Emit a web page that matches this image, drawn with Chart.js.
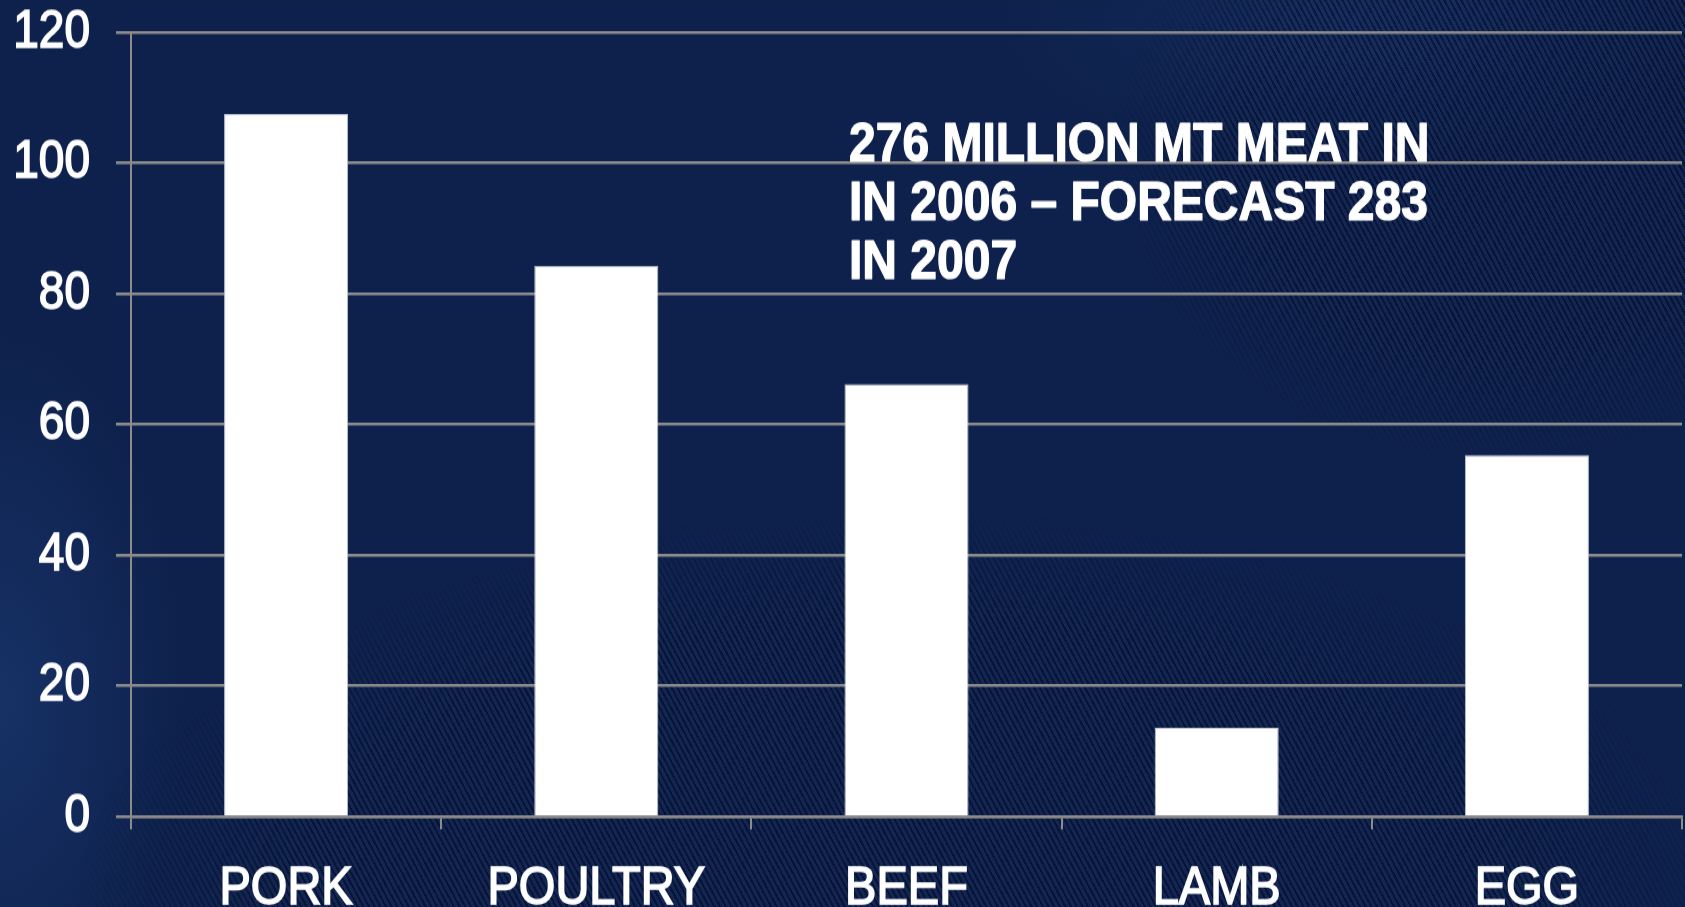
<!DOCTYPE html>
<html>
<head>
<meta charset="utf-8">
<script src="https://cdn.jsdelivr.net/npm/chart.js@4.4.1/dist/chart.umd.min.js"></script>
<style>
  html, body { margin: 0; padding: 0; width: 1685px; height: 907px; overflow: hidden; background: #0e214c; }
  #bg {
    position: absolute; left: 0; top: 0; width: 1685px; height: 907px;
    background:
      radial-gradient(ellipse 260px 520px at 0px 700px, rgba(40,80,150,0.35), rgba(40,80,150,0) 70%),
      radial-gradient(ellipse 500px 200px at 1350px 20px, rgba(30,60,120,0.35), rgba(30,60,120,0) 70%),
      #0e214c;
  }
  #stripes {
    position: absolute; left: 0; top: 0; width: 1685px; height: 907px;
    background: repeating-linear-gradient(62deg, rgba(0,5,25,0.55) 0px, rgba(0,5,25,0.55) 2px, rgba(40,60,110,0.25) 2px, rgba(40,60,110,0.25) 5px);
    -webkit-mask-image: radial-gradient(ellipse 1100px 520px at 900px 900px, #000 55%, transparent 75%), radial-gradient(ellipse 520px 420px at 1500px 150px, #000 50%, transparent 75%);
    mask-image: radial-gradient(ellipse 1100px 520px at 900px 900px, #000 55%, transparent 75%), radial-gradient(ellipse 520px 420px at 1500px 150px, #000 50%, transparent 75%);
    opacity: 0.8;
  }
  #wrap {
    position: absolute; left: 0; top: 0; width: 1685px; height: 788.7px;
    transform: scaleY(1.15); transform-origin: 0 0;
  }
</style>
</head>
<body>
<div id="bg"></div>
<div id="stripes"></div>
<div id="wrap"><canvas id="chart"></canvas></div>
<script>
// World output by product (million tonnes)
const categories = ['PORK', 'POULTRY', 'BEEF', 'LAMB', 'EGG'];
const production = [107.5, 84.3, 66.2, 13.6, 55.3];
const yTicks = [0, 20, 40, 60, 80, 100, 120];
const noteLines = ['276 MILLION MT MEAT IN', 'IN 2006 \u2013 FORECAST 283', 'IN 2007'];

const GRID = '#8c8c8c';
const FONT = "'Liberation Sans', Arial, Helvetica, sans-serif";

// Headline note written over the upper right of the plot
const notePlugin = {
  id: 'note',
  afterDraw(chart) {
    const { ctx, chartArea, scales } = chart;
    const y0 = scales.y.getPixelForValue(100) - 2;
    ctx.save();
    ctx.fillStyle = '#ffffff';
    ctx.strokeStyle = '#ffffff';
    ctx.lineWidth = 1.2;
    ctx.lineJoin = 'round';
    ctx.font = 'bold 48px ' + FONT;
    ctx.textAlign = 'left';
    ctx.textBaseline = 'alphabetic';
    noteLines.forEach((line, i) => {
      const x = chartArea.left + 718, y = y0 + i * 51;
      ctx.strokeText(line, x, y);
      ctx.fillText(line, x, y);
    });
    ctx.restore();
  }
};

new Chart(document.getElementById('chart'), {
  type: 'bar',
  data: {
    labels: categories,
    datasets: [{
      data: production,
      backgroundColor: '#ffffff',
      borderColor: 'rgba(190,196,210,1)',
      borderWidth: 1,
      categoryPercentage: 1.0,
      barPercentage: 0.4
    }]
  },
  options: {
    responsive: true,
    maintainAspectRatio: false,
    animation: false,
    layout: { padding: { top: 28, right: 3, left: 0, bottom: 0 } },
    plugins: { legend: { display: false }, tooltip: { enabled: false } },
    scales: {
      x: {
        offset: true,
        grid: { display: true, drawOnChartArea: false, drawTicks: true, tickLength: 11, color: GRID, lineWidth: 2, offset: true },
        border: { display: true, color: GRID, width: 2.6 },
        ticks: { color: '#ffffff', font: { family: FONT, size: 47 }, padding: 23.5, maxRotation: 0, textStrokeColor: '#ffffff', textStrokeWidth: 1.5 },
        afterFit(s) { s.height = 79.5; s.paddingLeft = 0; s.paddingRight = 0; }
      },
      y: {
        min: 0, max: 120,
        afterBuildTicks(s) { s.ticks = yTicks.map(v => ({ value: v })); },
        grid: { color: GRID, lineWidth: 2.6, tickLength: 15, drawTicks: true },
        border: { display: true, color: GRID, width: 2 },
        ticks: { color: '#ffffff', font: { family: FONT, size: 46 }, padding: 26, textStrokeColor: '#ffffff', textStrokeWidth: 1.5 },
        afterFit(s) { s.width = 131; s.paddingTop = 0; s.paddingBottom = 0; }
      }
    }
  },
  plugins: [notePlugin]
});
</script>
</body>
</html>
